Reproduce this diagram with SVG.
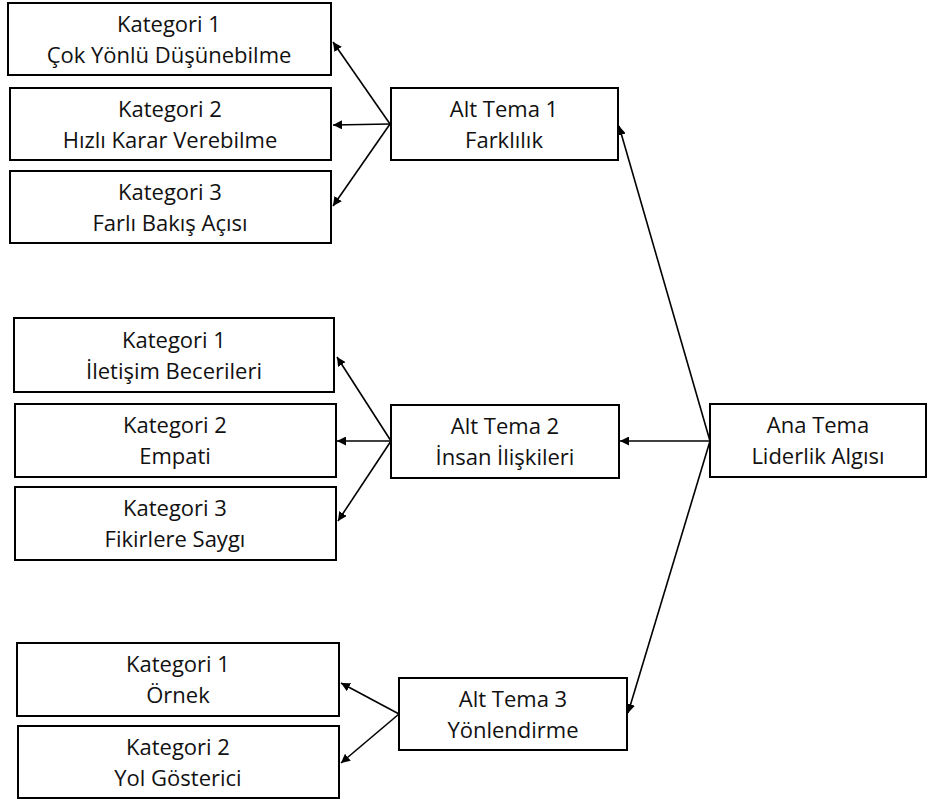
<svg xmlns="http://www.w3.org/2000/svg" width="928" height="800" viewBox="0 0 928 800">
<style>
.box{fill:#fff;stroke:#000;stroke-width:2}
.t{font-family:"Open Sans","Liberation Sans",sans-serif;font-size:22px;fill:#111;text-anchor:middle}
.c{stroke:#000;stroke-width:1.6;fill:none;marker-end:url(#ah)}
</style>
<defs>
<marker id="ah" viewBox="0 0 10 10" refX="10" refY="5" markerWidth="9" markerHeight="9" markerUnits="userSpaceOnUse" orient="auto">
<path d="M0,0 L10,5 L0,10 z" fill="#000"/>
</marker>
</defs>
<rect width="928" height="800" fill="#fff"/>
<g id="connectors">
<line class="c" x1="390" y1="124" x2="333" y2="42"/>
<line class="c" x1="390" y1="124" x2="333" y2="125"/>
<line class="c" x1="390" y1="124" x2="333" y2="206"/>
<line class="c" x1="391" y1="441" x2="337" y2="357"/>
<line class="c" x1="391" y1="441" x2="337" y2="441"/>
<line class="c" x1="391" y1="441" x2="338" y2="521"/>
<line class="c" x1="399" y1="714" x2="341" y2="683"/>
<line class="c" x1="399" y1="714" x2="341" y2="763"/>
<line class="c" x1="710" y1="441" x2="619" y2="126"/>
<line class="c" x1="710" y1="441" x2="620" y2="441"/>
<line class="c" x1="710" y1="441" x2="628" y2="713"/>
</g>
<g id="k1a"><rect class="box" x="8" y="3" width="323" height="72"/><text class="t" x="169" y="32">Kategori 1</text><text class="t" x="169" y="63">Çok Yönlü Düşünebilme</text></g>
<g id="k2a"><rect class="box" x="10" y="88" width="321" height="72"/><text class="t" x="170" y="117">Kategori 2</text><text class="t" x="170" y="148">Hızlı Karar Verebilme</text></g>
<g id="k3a"><rect class="box" x="10" y="171" width="321" height="72"/><text class="t" x="170" y="200">Kategori 3</text><text class="t" x="170" y="231">Farlı Bakış Açısı</text></g>
<g id="alt1"><rect class="box" x="391" y="88" width="227" height="72"/><text class="t" x="504" y="117">Alt Tema 1</text><text class="t" x="504" y="148">Farklılık</text></g>
<g id="k1b"><rect class="box" x="14" y="318" width="320" height="74"/><text class="t" x="174" y="348">Kategori 1</text><text class="t" x="174" y="379">İletişim Becerileri</text></g>
<g id="k2b"><rect class="box" x="15" y="404" width="321" height="73"/><text class="t" x="175" y="433">Kategori 2</text><text class="t" x="175" y="464">Empati</text></g>
<g id="k3b"><rect class="box" x="15" y="487" width="321" height="73"/><text class="t" x="175" y="516">Kategori 3</text><text class="t" x="175" y="547">Fikirlere Saygı</text></g>
<g id="alt2"><rect class="box" x="391" y="405" width="228" height="73"/><text class="t" x="505" y="434">Alt Tema 2</text><text class="t" x="505" y="465">İnsan İlişkileri</text></g>
<g id="ana"><rect class="box" x="710" y="404" width="216" height="73"/><text class="t" x="818" y="433">Ana Tema</text><text class="t" x="818" y="464">Liderlik Algısı</text></g>
<g id="k1c"><rect class="box" x="17" y="643" width="322" height="73"/><text class="t" x="178" y="672">Kategori 1</text><text class="t" x="178" y="703">Örnek</text></g>
<g id="k2c"><rect class="box" x="18" y="726" width="321" height="72"/><text class="t" x="178" y="755">Kategori 2</text><text class="t" x="178" y="786">Yol Gösterici</text></g>
<g id="alt3"><rect class="box" x="399" y="678" width="228" height="72"/><text class="t" x="513" y="707">Alt Tema 3</text><text class="t" x="513" y="738">Yönlendirme</text></g>
</svg>
